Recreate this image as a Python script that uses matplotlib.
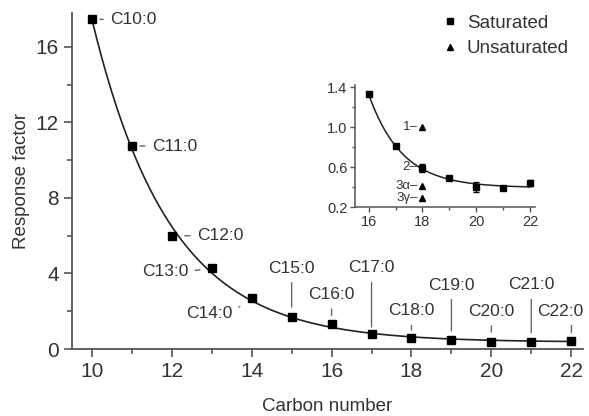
import numpy as np
import matplotlib.pyplot as plt

# saturated fatty acids, main chart
carbon = [10, 11, 12, 13, 14, 15, 16, 17, 18, 19, 20, 21, 22]
response = [17.46, 10.75, 6.0, 4.27, 2.7, 1.7, 1.3, 0.8, 0.58, 0.48, 0.38, 0.38, 0.43]
names = ['C10:0', 'C11:0', 'C12:0', 'C13:0', 'C14:0', 'C15:0', 'C16:0',
         'C17:0', 'C18:0', 'C19:0', 'C20:0', 'C21:0', 'C22:0']

# inset (C16 - C22)
inset_carbon = [16, 17, 18, 19, 20, 21, 22]
inset_resp = [1.33, 0.81, 0.59, 0.49, 0.40, 0.39, 0.44]
inset_err = [0.01, 0.0, 0.04, 0.0, 0.05, 0.01, 0.03]
unsat_carbon = [18, 18, 18, 18]
unsat_resp = [1.0, 0.60, 0.41, 0.29]
unsat_names = ['1', '2', '3\u03b1', '3\u03b3']

plt.rcParams['font.family'] = ['Liberation Sans', 'DejaVu Sans']
txt = '#333333'
spine = '#555555'


def fit_exp(x, y):
    # y = a*exp(-b*(x-x0)) + c, grid on b, least squares for a, c
    x = np.asarray(x, float)
    y = np.asarray(y, float)
    best = None
    for b in np.linspace(0.05, 2.0, 2000):
        A = np.column_stack([np.exp(-b * (x - 10)), np.ones_like(x)])
        coef, res, _, _ = np.linalg.lstsq(A, y, rcond=None)
        err = np.sum((A @ coef - y) ** 2)
        if best is None or err < best[0]:
            best = (err, b, coef)
    _, b, (a, c) = best
    return lambda t: a * np.exp(-b * (t - 10)) + c


f_main = fit_exp(carbon, response)
f_in = fit_exp(inset_carbon, inset_resp)

fig = plt.figure(figsize=(5.89, 4.16), dpi=100)
ax = fig.add_axes([0.1222, 0.161, 0.868, 0.808])

xs = np.linspace(10, 22, 300)
ax.plot(xs, f_main(xs), color='#222222', lw=1.2, zorder=2)
ax.plot(carbon, response, 's', color='black', ms=6, zorder=3)

ax.set_xlim(9.5, 22.3)
ax.set_ylim(0, 17.8)
ax.set_xticks(range(10, 23, 2))
ax.set_xticks(range(11, 23, 2), minor=True)
ax.set_yticks(range(0, 17, 4))
ax.set_yticks(range(2, 18, 4), minor=True)
for s in ['top', 'right']:
    ax.spines[s].set_visible(False)
for s in ['left', 'bottom']:
    ax.spines[s].set_color(spine)
    ax.spines[s].set_linewidth(1.3)
ax.tick_params(which='major', length=6, width=1.2, color=spine, labelsize=15, labelcolor=txt, direction='out')
ax.tick_params(which='minor', length=3.5, width=1.2, color=spine, direction='out')
ax.set_xlabel('Carbon number', fontsize=13.5, color=txt, labelpad=12)
ax.set_ylabel('Response factor', fontsize=13.5, color=txt, labelpad=4)

# label offsets (points) and leader gaps
label_pos = {
    'C10:0': ((13, 0), (0, 0.5), 'left', 'center', 5.8),
    'C11:0': ((14.4, 0), (0, 0.5), 'left', 'center', 5.8),
    'C12:0': ((18, 0), (0, 0.5), 'left', 'center', 9.4),
    'C13:0': ((-17, -2), (1, 0.5), 'right', 'center', 8.6),
    'C14:0': ((-13.7, -10.8), (1, 0.6), 'right', 'center', 10.5),
    'C15:0': ((0, 35), (0.5, 0), 'center', 'center', 7),
    'C16:0': ((0, 21.5), (0.5, 0), 'center', 'center', 6.5),
    'C17:0': ((0, 47.5), (0.5, 0), 'center', 'center', 5),
    'C18:0': ((0, 19.5), (0.5, 0), 'center', 'center', 5.8),
    'C19:0': ((0, 39.5), (0.5, 0), 'center', 'center', 6.5),
    'C20:0': ((0, 22), (0.5, 0), 'center', 'center', 7),
    'C21:0': ((0, 41), (0.5, 0), 'center', 'center', 6.5),
    'C22:0': ((-8, 21.5), (0.75, 0), 'center', 'center', 5.8),
}
for x, y, n in zip(carbon, response, names):
    off, rel, ha, va, gap = label_pos[n]
    ax.annotate(n, xy=(x, y), xytext=off, textcoords='offset points',
                ha=ha, va=va, fontsize=12.5, color=txt,
                arrowprops=dict(arrowstyle='-', color='#666666', lw=1.0,
                                shrinkA=3, shrinkB=gap, relpos=rel))

# legend
ax.plot([], [], 's', color='black', ms=5, label='Saturated')
ax.plot([], [], '^', color='black', ms=5, label='Unsaturated')
leg = ax.legend(loc='upper right', bbox_to_anchor=(1.005, 1.045), frameon=False, fontsize=13.5,
                handlelength=0.6, handletextpad=0.6, labelspacing=0.45, labelcolor=txt)

# inset
axi = fig.add_axes([0.603, 0.502, 0.306, 0.293])
xi = np.linspace(16, 22, 200)
axi.plot(xi, f_in(xi), color='#222222', lw=1.1, zorder=2)
axi.errorbar(inset_carbon, inset_resp, yerr=inset_err, fmt='s', color='black',
             ms=4, capsize=2, elinewidth=1, zorder=3)
axi.plot(unsat_carbon, unsat_resp, '^', color='black', ms=4, zorder=3)
for x, y, n in zip(unsat_carbon, unsat_resp, unsat_names):
    axi.annotate(n + '\u2013', xy=(x, y), xytext=(-3.5, 0), textcoords='offset points',
                 ha='right', va='center', fontsize=9.5, color=txt)
axi.set_xlim(15.5, 22.2)
axi.set_ylim(0.2, 1.42)
axi.set_xticks(range(16, 23, 2))
axi.set_xticks(range(17, 23, 2), minor=True)
axi.set_yticks([0.2, 0.6, 1.0, 1.4])
axi.set_yticks([0.4, 0.8, 1.2], minor=True)
axi.yaxis.set_major_formatter(plt.FormatStrFormatter('%.1f'))
for s in ['top', 'right']:
    axi.spines[s].set_visible(False)
for s in ['left', 'bottom']:
    axi.spines[s].set_color(spine)
    axi.spines[s].set_linewidth(1.1)
axi.tick_params(which='major', length=3.5, width=1, color=spine, labelsize=10.5,
                labelcolor=txt, direction='out', pad=2)
axi.tick_params(which='minor', length=2, width=1, color=spine, direction='out')

fig.savefig('out.png', dpi=100)
